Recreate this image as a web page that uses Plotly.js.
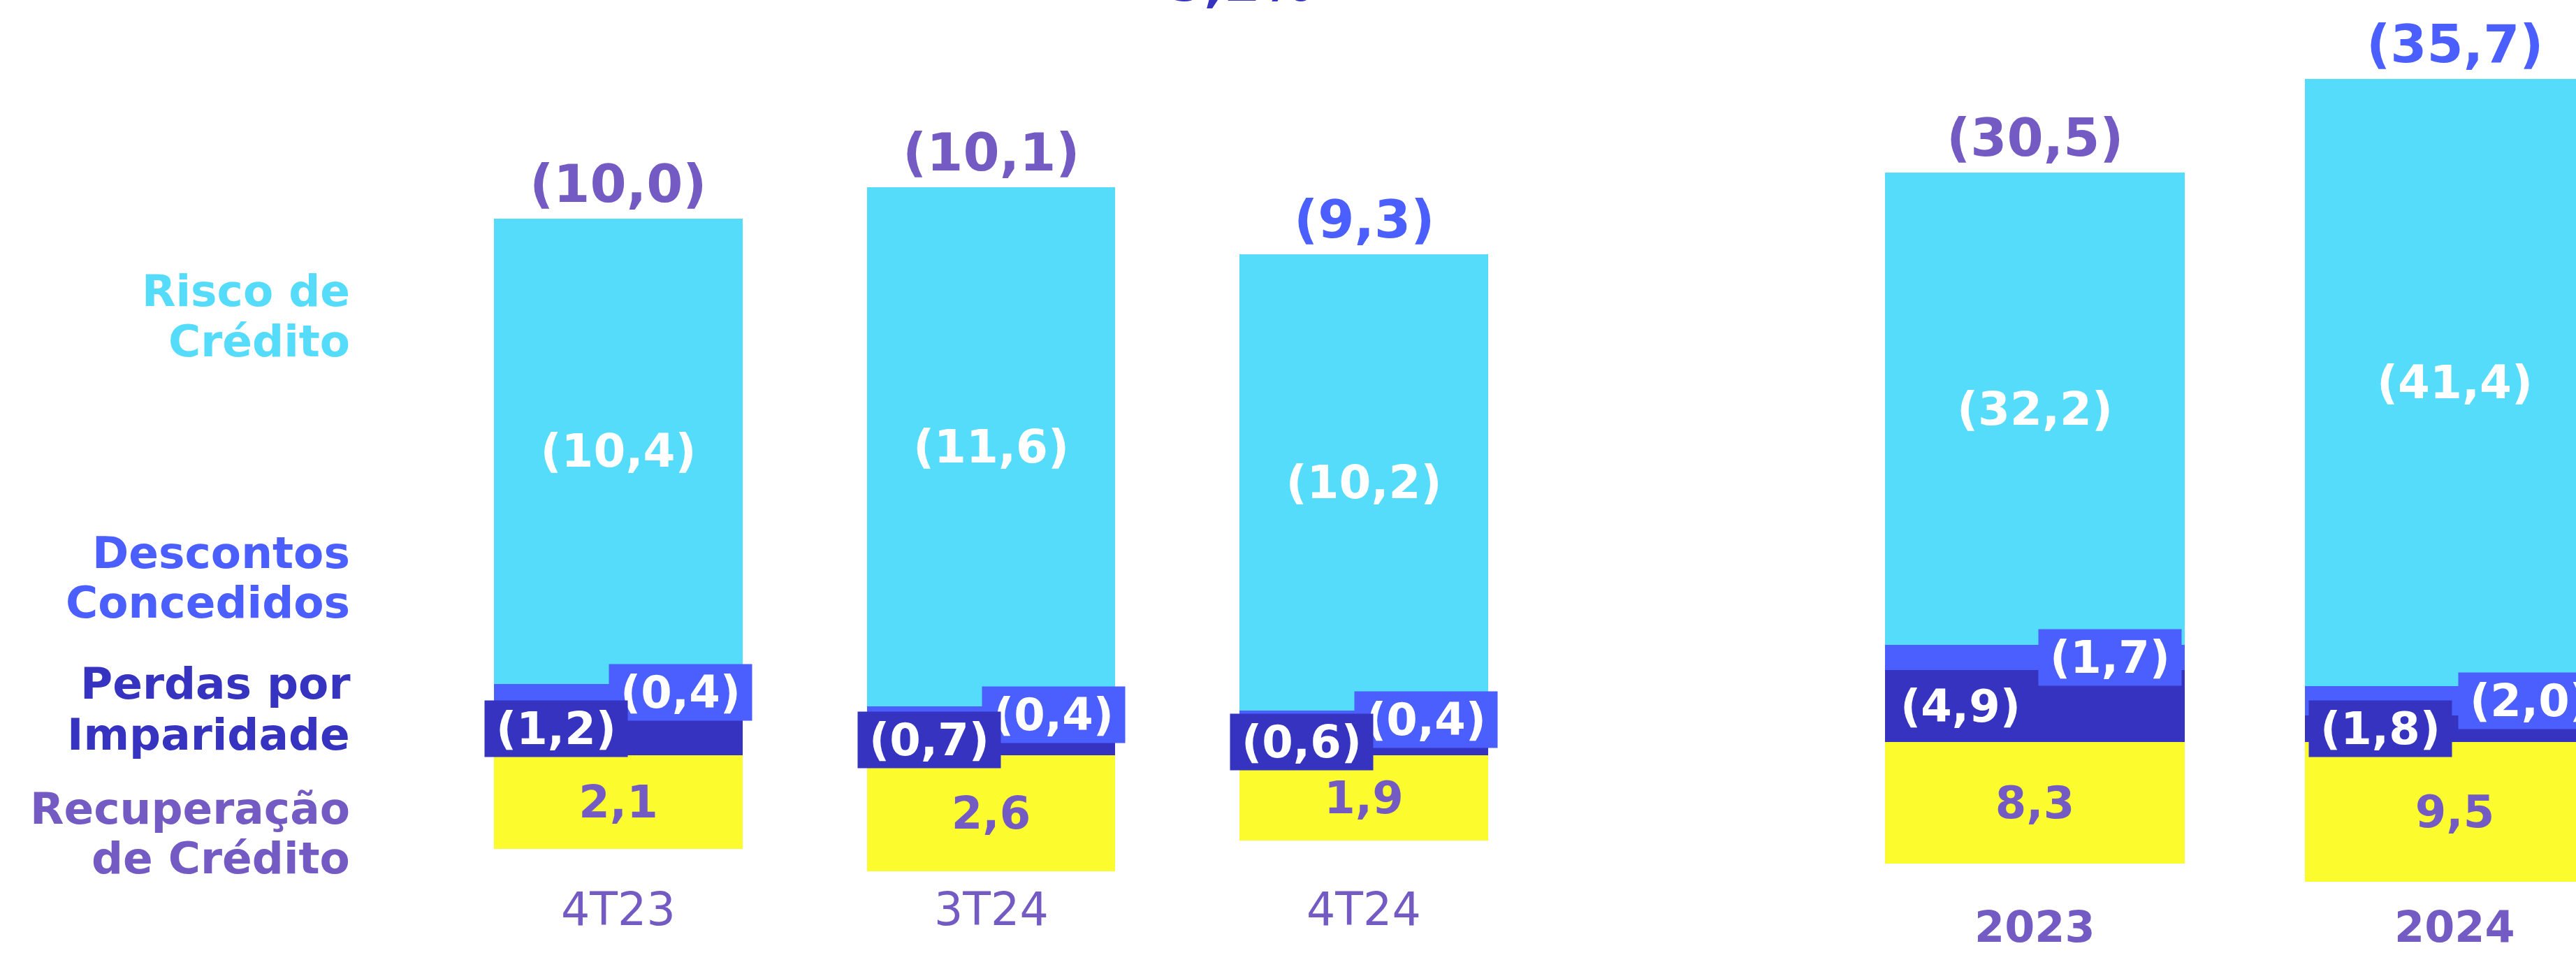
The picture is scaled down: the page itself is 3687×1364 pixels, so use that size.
<!DOCTYPE html>
<html>
<head>
<meta charset="utf-8">
<script src="https://cdn.plot.ly/plotly-3.0.1.min.js"></script>
<style>
html,body{margin:0;padding:0;background:#ffffff;}
#chart{width:3687px;height:1364px;}
</style>
</head>
<body>
<div id="chart"></div>
<script>
// ---------- DATA ----------
const quarters = ['4T23', '3T24', '4T24'];
const years = ['2023', '2024'];

const recuperacaoQ = [2.1, 2.6, 1.9];
const perdasQ = [-1.2, -0.7, -0.6];
const descontosQ = [-0.4, -0.4, -0.4];
const riscoQ = [-10.4, -11.6, -10.2];
const totalQ = [-10.0, -10.1, -9.3];

const recuperacaoY = [8.3, 9.5];
const perdasY = [-4.9, -1.8];
const descontosY = [-1.7, -2.0];
const riscoY = [-32.2, -41.4];
const totalY = [-30.5, -35.7];

const seriesNames = ['Recuperação de Crédito', 'Perdas por Imparidade', 'Descontos Concedidos', 'Risco de Crédito'];
const legendLines = [['Risco de', 'Crédito'], ['Descontos', 'Concedidos'], ['Perdas por', 'Imparidade'], ['Recuperação', 'de Crédito']];
const topNote = '5,2%';

// ---------- STYLE ----------
const C_CYAN = '#55dcfb', C_BLUE = '#4a5ffd', C_DARK = '#3633c0', C_YEL = '#fbfb2d', C_PURP = '#745bc4';
const FONT = 'DejaVu Sans';
const totalColorsQ = [C_PURP, C_PURP, C_BLUE];
const totalColorsY = [C_PURP, C_BLUE];
const W = 3687, H = 1364;

function fmt(v) {
  const s = Math.abs(v).toFixed(1).replace('.', ',');
  return v < 0 ? '(' + s + ')' : s;
}

function barTraces(cats, rec, per, des, ris, xa, ya, width) {
  const base = {type: 'bar', x: cats, xaxis: xa, yaxis: ya, width: width, hoverinfo: 'none',
                showlegend: false, cliponaxis: true};
  return [
    Object.assign({}, base, {name: seriesNames[0], y: rec, marker: {color: C_YEL, line: {width: 0}},
      text: rec.map(fmt), textposition: 'inside', insidetextanchor: 'middle', constraintext: 'none',
      textfont: {family: FONT, size: 64, color: C_PURP, weight: 700}}),
    Object.assign({}, base, {name: seriesNames[1], y: per, marker: {color: C_DARK, line: {width: 0}}, textposition: 'none'}),
    Object.assign({}, base, {name: seriesNames[2], y: des, marker: {color: C_BLUE, line: {width: 0}}, textposition: 'none'}),
    Object.assign({}, base, {name: seriesNames[3], y: ris, marker: {color: C_CYAN, line: {width: 0}},
      text: ris.map(fmt), textposition: 'inside', insidetextanchor: 'middle', constraintext: 'none',
      textfont: {family: FONT, size: 66, color: '#ffffff', weight: 700}})
  ];
}

const data = [].concat(
  barTraces(quarters, recuperacaoQ, perdasQ, descontosQ, riscoQ, 'x', 'y', 0.667),
  barTraces(years, recuperacaoY, perdasY, descontosY, riscoY, 'x2', 'y2', 0.714)
);

const annotations = [];
function segLabels(cats, per, des, ris, tot, xr, yr, shift, totColors, tickY, tickWeight, tickSize) {
  cats.forEach((c, i) => {
    // Descontos box (right)
    annotations.push({xref: xr, yref: yr, x: i, y: per[i] + des[i] / 2, text: fmt(des[i]),
      showarrow: false, xshift: shift, width: 204, height: 80, bgcolor: C_BLUE, borderpad: 0,
      font: {family: FONT, size: 64, color: '#ffffff', weight: 700}});
    // Perdas box (left)
    annotations.push({xref: xr, yref: yr, x: i, y: per[i] / 2, text: fmt(per[i]),
      showarrow: false, xshift: -shift, width: 204, height: 80, bgcolor: C_DARK, borderpad: 0,
      font: {family: FONT, size: 64, color: '#ffffff', weight: 700}});
    // Total above bar
    const top = per[i] + des[i] + ris[i];
    annotations.push({xref: xr, yref: yr, x: i, y: top, yanchor: 'bottom', yshift: 4, text: fmt(tot[i]),
      showarrow: false, font: {family: FONT, size: 75, color: totColors[i], weight: 700}});
    // Category label
    annotations.push({xref: xr, yref: 'paper', x: i, y: 1 - tickY / H, yanchor: 'middle', text: c,
      showarrow: false, font: {family: FONT, size: tickSize, color: C_PURP, weight: tickWeight}});
  });
}
segLabels(quarters, perdasQ, descontosQ, riscoQ, totalQ, 'x', 'y', 89, totalColorsQ, 1301, 400, 65);
segLabels(years, perdasY, descontosY, riscoY, totalY, 'x2', 'y2', 107, totalColorsY, 1326, 700, 62);

// Left side category legend text
const legendColors = [C_CYAN, C_BLUE, C_DARK, C_PURP];
const legendBaselines = [[439, 510], [813, 884], [1000, 1073], [1179, 1250]];
legendLines.forEach((lines, k) => {
  lines.forEach((t, j) => {
    annotations.push({xref: 'paper', yref: 'paper', x: 502 / W, xanchor: 'right',
      y: 1 - (legendBaselines[k][j] - 22) / H, yanchor: 'middle', text: t, showarrow: false,
      borderpad: 0,
      font: {family: FONT, size: 63, color: legendColors[k], weight: 700}});
  });
});

// Cut-off note at very top
annotations.push({xref: 'paper', yref: 'paper', x: 1775 / W, y: 1 - 21 / H, yanchor: 'bottom',
  text: topNote, showarrow: false, font: {family: FONT, size: 75, color: C_DARK, weight: 700}});

const layout = {
  width: W, height: H,
  margin: {l: 0, r: 0, t: 0, b: 0, pad: 0},
  paper_bgcolor: '#ffffff', plot_bgcolor: 'rgba(0,0,0,0)',
  barmode: 'relative', bargap: 0,
  showlegend: false,
  xaxis: {domain: [618.25 / W, 2218.75 / W], range: [-0.5, 2.5], type: 'category',
          showgrid: false, zeroline: false, showline: false, showticklabels: false, ticks: ''},
  yaxis: {domain: [0, 1], range: [(H - 1081) / 64, -1081 / 64], showgrid: false, zeroline: false,
          showline: false, showticklabels: false, ticks: ''},
  xaxis2: {domain: [(2912.5 - 300.5) / W, 1], range: [-0.5, (W - 2612) / 601 - 0.5], type: 'category', anchor: 'y2',
           showgrid: false, zeroline: false, showline: false, showticklabels: false, ticks: ''},
  yaxis2: {domain: [0, 1], anchor: 'x2', range: [(H - 1062) / 21, -1062 / 21], showgrid: false, zeroline: false,
           showline: false, showticklabels: false, ticks: ''},
  annotations: annotations
};

Plotly.newPlot('chart', data, layout, {staticPlot: true, displayModeBar: false});
</script>
</body>
</html>
